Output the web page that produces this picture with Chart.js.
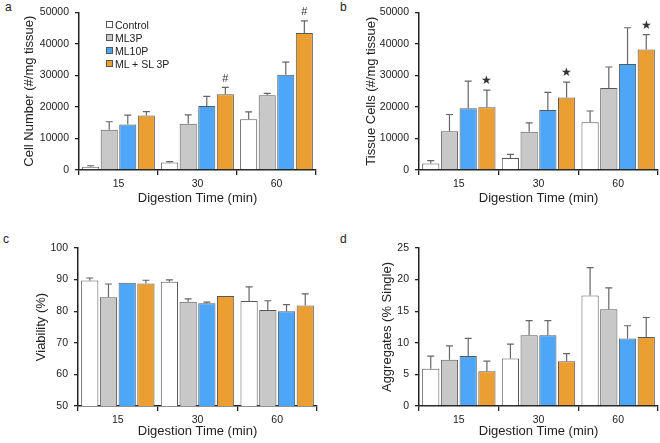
<!DOCTYPE html>
<html lang="en">
<head>
<meta charset="UTF-8">
<title>Digestion time panels</title>
<script src="https://cdn.jsdelivr.net/npm/chart.js@4.4.0/dist/chart.umd.min.js"></script>
<style>
  body { margin: 0; background: #fff; width: 660px; height: 443px; position: relative; overflow: hidden;
         font-family: "Liberation Sans", Arial, sans-serif; color: #222; }
  canvas { position: absolute; }
  .tag { position: absolute; font-size: 12px; }
  #legend { position: absolute; left: 106px; top: 19px; font-size: 10.5px; line-height: 12.9px; }
  #legend .box { display: inline-block; width: 5px; height: 5px; border: 1px solid #555; margin-right: 2px; vertical-align: 1px; }
</style>
</head>
<body>
<div class="tag" style="left:5px;top:0px">a</div>
<div class="tag" style="left:340px;top:0px">b</div>
<div class="tag" style="left:3px;top:232px">c</div>
<div class="tag" style="left:340px;top:232px">d</div>
<canvas id="cA" width="330" height="210" style="left:0;top:0"></canvas>
<canvas id="cB" width="330" height="210" style="left:330px;top:0"></canvas>
<canvas id="cC" width="330" height="243" style="left:0;top:200px"></canvas>
<canvas id="cD" width="330" height="243" style="left:330px;top:200px"></canvas>
<div id="legend"></div>
<script>
// categories and groups
const times = ['15', '30', '60'];
const groups = ['Control', 'ML3P', 'ML10P', 'ML + SL 3P'];

// a: cell number (#/mg tissue), one row per group
const cellMean = [[1050, 2400, 16100], [12800, 14700, 23700], [14400, 20300, 30200], [17300, 24000, 43400]];
const cellErr  = [[300, 250, 2300], [2500, 2750, 600], [3000, 3050, 4000], [1200, 2200, 3900]];
const cellMarks = ['', '#', '#'];

// b: tissue cells (#/mg tissue)
const tissueMean = [[2100, 3800, 15100], [12300, 12100, 26000], [19600, 19000, 33600], [19900, 23000, 38200]];
const tissueErr  = [[850, 1150, 3600], [5300, 2850, 6650], [8550, 5600, 11500], [5450, 4850, 4750]];
const tissueMarks = ['★', '★', '★'];

// c: viability (%)
const viabMean = [[89.7, 89.3, 83.2], [84.4, 83.0, 80.4], [89.0, 82.5, 80.0], [88.8, 84.8, 81.8]];
const viabErr  = [[0.8, 0.6, 4.5], [4.2, 0.9, 2.9], [0, 0.4, 2.1], [1.0, 0, 3.7]];

// d: aggregates (% single)
const aggMean = [[5.9, 7.5, 17.5], [7.3, 11.2, 15.3], [7.9, 11.2, 10.7], [5.5, 7.1, 10.9]];
const aggErr  = [[2.0, 2.3, 4.4], [2.2, 2.3, 3.4], [2.8, 2.3, 2.0], [1.6, 1.2, 3.1]];

const fills = ['#ffffff', '#c8c8c8', '#4da6f7', '#eb9f32'];
const FONT = '"Liberation Sans", Arial, sans-serif';

// draws the upward error bars and the significance marks
const errorBars = {
  id: 'errorBars',
  afterDatasetsDraw(chart) {
    const ctx = chart.ctx, y = chart.scales.y;
    ctx.save();
    ctx.strokeStyle = '#666';
    ctx.lineWidth = 1.2;
    ctx.fillStyle = '#333';
    ctx.textAlign = 'center';
    ctx.textBaseline = 'bottom';
    chart.data.datasets.forEach((ds, i) => {
      chart.getDatasetMeta(i).data.forEach((bar, j) => {
        const e = ds.errors[j];
        let top = bar.y;
        if (e) {
          top = y.getPixelForValue(ds.data[j] + e);
          ctx.beginPath();
          ctx.moveTo(bar.x, bar.y);
          ctx.lineTo(bar.x, top);
          ctx.moveTo(bar.x - 3.5, top);
          ctx.lineTo(bar.x + 3.5, top);
          ctx.stroke();
        }
        if (ds.marks && ds.marks[j]) {
          ctx.font = (ds.marks[j] === '#' ? '11px ' : '12px ') + FONT;
          ctx.fillText(ds.marks[j], bar.x, top - 3);
        }
      });
    });
    ctx.restore();
  }
};

function makePanel(id, means, errs, marks, yMin, yMax, yStep, yTitle, p) {
  const datasets = groups.map((g, i) => ({
    label: g,
    data: means[i],
    errors: errs[i],
    marks: i === 3 ? marks : null,
    backgroundColor: fills[i],
    borderColor: '#595959',
    borderWidth: 1,
    categoryPercentage: 0.94,
    barPercentage: 0.92
  }));
  new Chart(document.getElementById(id), {
    type: 'bar',
    data: { labels: times, datasets },
    plugins: [errorBars],
    options: {
      responsive: false,
      animation: false,
      layout: { padding: { top: p.top, right: p.right, left: 0, bottom: 0 } },
      plugins: { legend: { display: false }, tooltip: { enabled: false } },
      scales: {
        x: {
          afterFit: s => { s.height = p.xh; },
          grid: { offset: true, drawOnChartArea: false, tickLength: 5, tickColor: '#222', lineWidth: 1.3 },
          border: { color: '#222', width: 1.5 },
          ticks: { color: '#222', padding: 3, font: { family: FONT, size: 10.5 } },
          title: { display: true, text: 'Digestion Time (min)', color: '#222',
                   padding: { top: 0, bottom: p.xtp }, font: { family: FONT, size: 13 } }
        },
        y: {
          min: yMin, max: yMax,
          afterFit: s => { s.width = p.yw; },
          grid: { drawOnChartArea: false, tickLength: 4, tickColor: '#222', lineWidth: 1.3 },
          border: { color: '#222', width: 1.5 },
          ticks: { stepSize: yStep, color: '#222', padding: 6, font: { family: FONT, size: 10.5 },
                   callback: v => String(v) },
          title: { display: true, text: yTitle, color: '#222',
                   padding: { top: p.ytp, bottom: 0 }, font: { family: FONT, size: 13 } }
        }
      }
    }
  });
}

makePanel('cA', cellMean, cellErr, cellMarks, 0, 50000, 10000, 'Cell Number (#/mg tissue)',
  { top: 12, right: 14, xh: 40, xtp: 4, yw: 79, ytp: 22 });
makePanel('cB', tissueMean, tissueErr, tissueMarks, 0, 50000, 10000, 'Tissue Cells (#/mg tissue)',
  { top: 12, right: 2, xh: 40, xtp: 4, yw: 89, ytp: 34 });
makePanel('cC', viabMean, viabErr, null, 50, 100, 10, 'Viability (%)',
  { top: 48, right: 13, xh: 37, xtp: 4, yw: 78, ytp: 34 });
makePanel('cD', aggMean, aggErr, null, 0, 25, 5, 'Aggregates (% Single)',
  { top: 48, right: 2, xh: 37, xtp: 4, yw: 89, ytp: 50 });

// legend for panel a
const legend = document.getElementById('legend');
groups.forEach((g, i) => {
  const row = document.createElement('div');
  row.innerHTML = '<span class="box" style="background:' + fills[i] + '"></span>' + g;
  legend.appendChild(row);
});
</script>
</body>
</html>
